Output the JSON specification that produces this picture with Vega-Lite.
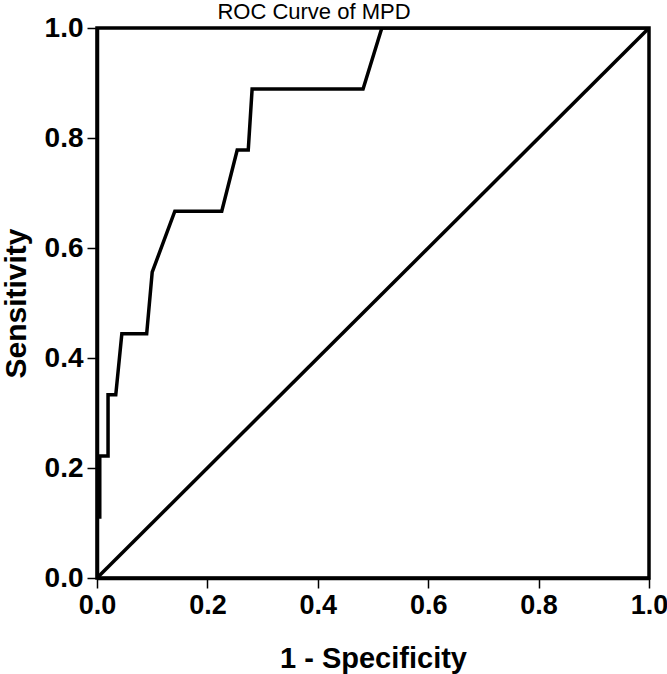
{
  "$schema": "https://vega.github.io/schema/vega-lite/v6.json",
  "width": 552,
  "height": 550,
  "autosize": {"type": "none"},
  "padding": {"left": 97, "top": 28, "right": 18, "bottom": 96},
  "background": "white",
  "config": {
    "view": {"stroke": "black", "strokeWidth": 3.5},
    "font": "Liberation Sans"
  },
  "title": {
    "text": "ROC Curve of MPD",
    "font": "Liberation Sans",
    "fontSize": 22,
    "fontWeight": "normal",
    "color": "black",
    "anchor": "middle",
    "frame": "group",
    "dx": -59,
    "baseline": "alphabetic",
    "offset": -27
  },
  "data": {
    "values": [
      {"series": "roc", "i": 0, "fpr": 0, "tpr": 0},
      {"series": "roc", "i": 1, "fpr": 0, "tpr": 0.111},
      {"series": "roc", "i": 2, "fpr": 0.005, "tpr": 0.111},
      {"series": "roc", "i": 3, "fpr": 0.005, "tpr": 0.222},
      {"series": "roc", "i": 4, "fpr": 0.02, "tpr": 0.222},
      {"series": "roc", "i": 5, "fpr": 0.02, "tpr": 0.333},
      {"series": "roc", "i": 6, "fpr": 0.034, "tpr": 0.333},
      {"series": "roc", "i": 7, "fpr": 0.045, "tpr": 0.444},
      {"series": "roc", "i": 8, "fpr": 0.09, "tpr": 0.444},
      {"series": "roc", "i": 9, "fpr": 0.10, "tpr": 0.556},
      {"series": "roc", "i": 10, "fpr": 0.141, "tpr": 0.667},
      {"series": "roc", "i": 11, "fpr": 0.226, "tpr": 0.667},
      {"series": "roc", "i": 12, "fpr": 0.254, "tpr": 0.778},
      {"series": "roc", "i": 13, "fpr": 0.274, "tpr": 0.778},
      {"series": "roc", "i": 14, "fpr": 0.281, "tpr": 0.889},
      {"series": "roc", "i": 15, "fpr": 0.482, "tpr": 0.889},
      {"series": "roc", "i": 16, "fpr": 0.516, "tpr": 1.0},
      {"series": "roc", "i": 17, "fpr": 1.0, "tpr": 1.0},
      {"series": "ref", "i": 0, "fpr": 0, "tpr": 0},
      {"series": "ref", "i": 1, "fpr": 1, "tpr": 1}
    ]
  },
  "mark": {"type": "line", "color": "black", "strokeWidth": 3.5, "clip": true},
  "encoding": {
    "x": {
      "field": "fpr",
      "type": "quantitative",
      "scale": {"domain": [0, 1], "nice": false, "zero": false},
      "axis": {
        "title": "1 - Specificity",
        "values": [0, 0.2, 0.4, 0.6, 0.8, 1.0],
        "format": ".1f",
        "grid": false,
        "domain": true,
        "domainColor": "black",
        "domainWidth": 3.5,
        "tickColor": "black",
        "tickWidth": 1.5,
        "tickSize": 10,
        "labelPadding": 4,
        "labelFont": "Liberation Sans",
        "labelFontWeight": "bold",
        "labelFontSize": 27,
        "labelColor": "black",
        "labelFlush": false,
        "labelOverlap": false,
        "titleFont": "Liberation Sans",
        "titleFontWeight": "bold",
        "titleFontSize": 29,
        "titleColor": "black",
        "titleX": 276,
        "titleY": 80,
        "titleAlign": "center",
        "titleBaseline": "middle"
      }
    },
    "y": {
      "field": "tpr",
      "type": "quantitative",
      "scale": {"domain": [0, 1], "nice": false, "zero": false},
      "axis": {
        "title": "Sensitivity",
        "values": [0, 0.2, 0.4, 0.6, 0.8, 1.0],
        "format": ".1f",
        "grid": false,
        "domain": true,
        "domainColor": "black",
        "domainWidth": 3.5,
        "tickColor": "black",
        "tickWidth": 1.5,
        "tickSize": 10,
        "labelPadding": 4,
        "labelFont": "Liberation Sans",
        "labelFontWeight": "bold",
        "labelFontSize": 28,
        "labelColor": "black",
        "labelFlush": false,
        "labelOverlap": false,
        "titleFont": "Liberation Sans",
        "titleFontWeight": "bold",
        "titleFontSize": 30,
        "titleColor": "black",
        "titleAngle": -90,
        "titleX": -81,
        "titleY": 275,
        "titleAlign": "center",
        "titleBaseline": "middle"
      }
    },
    "detail": {"field": "series"},
    "order": {"field": "i", "type": "quantitative"}
  }
}
